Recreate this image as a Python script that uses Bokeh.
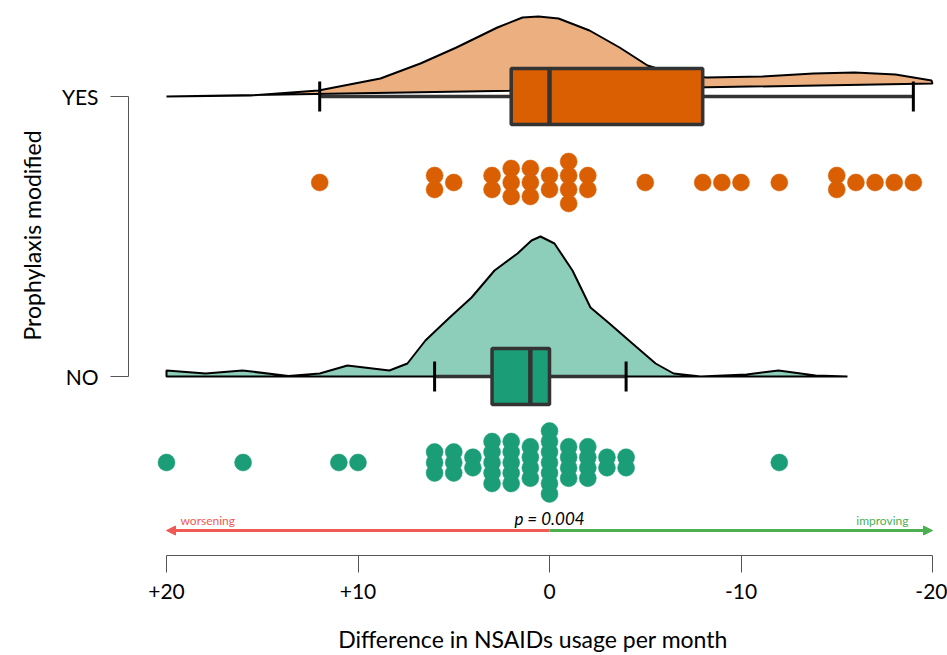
import numpy as np
from bokeh.plotting import figure
from bokeh.models import Range1d, FixedTicker, Arrow, NormalHead, ColumnDataSource, Title
from bokeh.core.properties import value
from bokeh.embed import file_html
from bokeh.resources import INLINE

# ---------------- data ----------------
groups = ["NO", "YES"]
x_ticks = [20, 10, 0, -10, -20]
x_tick_labels = ["+20", "+10", "0", "-10", "-20"]

yes_values = [12, 6, 6, 5, 3, 3, 2, 2, 2, 1, 1, 1, 0, 0, -1, -1, -1, -1, -2, -2,
              -5, -8, -9, -10, -12, -15, -15, -16, -17, -18, -19]
no_values = [20, 16, 11, 10, 6, 6, 6, 5, 5, 5, 4, 4, 3, 3, 3, 3, 3, 2, 2, 2, 2, 2,
             1, 1, 1, 1, 0, 0, 0, 0, 0, 0, 0, -1, -1, -1, -1, -2, -2, -2, -2,
             -3, -3, -4, -4, -12]

# box statistics: [whisker end, Q1, median, Q3, whisker end]
yes_box = [12, 2, 0, -8, -19]
no_box = [6, 3, 1, 0, -4]

# half-violin outlines (x value, relative height)
yes_dens_x = [20.0, 15.6, 12.06, 8.83, 6.74, 4.86, 2.72, 1.41, 0.57, -0.47, -2.09,
              -3.66, -5.12, -6.63, -8.2, -11.12, -13.79, -15.93, -18.07, -19.95]
yes_dens_h = [0, 1, 6, 18, 33, 49, 69, 79, 80, 78, 66, 49, 31, 22, 19, 20, 23, 24, 22, 16]
yes_base_x = [-20.0, 20.0]
yes_base_h = [13, 0]

no_dens_x = [20.0, 20.0, 17.96, 16.03, 13.63, 12.0, 10.55, 8.36, 7.42, 6.48, 5.27, 4.07,
             2.87, 1.67, 0.94, 0.47, -0.26, -1.2, -2.14, -3.13, -4.33, -5.54, -6.48,
             -7.89, -10.29, -11.96, -13.89, -15.56]
no_dens_h = [0, 6, 3, 6, 0.5, 3, 11, 6, 13, 36, 58, 79, 106, 123, 136, 140, 133, 106,
             69, 53, 33, 13, 3, 0, 2, 6, 1, 0]

p_text = "p = 0.004"
x_title = "Difference in NSAIDs usage per month"
y_title = "Prophylaxis modified"

# ---------------- layout ----------------
W, H = 947, 655
FL, FR, FT, FB = 128, 937, 0, 555          # frame edges in px
PX_P20, PX_M20 = 166, 932                   # px of +20 / -20
PX_YES, PX_NO = 96, 376                     # px of group lines
ppx = (PX_M20 - PX_P20) / 40.0
ppy = float(PX_NO - PX_YES)
x_start = 20 + (PX_P20 - FL) / ppx
x_end = -20 - (FR - PX_M20) / ppx
y_top = 1 + (PX_YES - FT) / ppy
y_bot = 0 - (FB - PX_NO) / ppy

FONT = "Lato"
ORANGE, ORANGE_L = "#d95f02", "#ecaf80"
GREEN, GREEN_L = "#1b9e77", "#8dcebb"
DARK = "#333333"

p = figure(width=W, height=H, output_backend="svg", toolbar_location=None,
           x_range=Range1d(x_start, x_end), y_range=Range1d(y_bot, y_top),
           min_border_left=FL, min_border_right=W - FR, min_border_top=FT,
           min_border_bottom=H - FB)
p.outline_line_color = None
p.grid.visible = False
p.background_fill_color = "white"
p.border_fill_color = "white"


def px(h):
    return h / ppy


def xv(pixel_x):
    return 20 - (pixel_x - PX_P20) / ppx


specs = [
    (1, yes_values, yes_box, yes_dens_x, yes_dens_h, yes_base_x, yes_base_h, ORANGE, ORANGE_L, 14),
    (0, no_values, no_box, no_dens_x, no_dens_h, [no_dens_x[-1], 20.0], [0, 0], GREEN, GREEN_L, 10.5),
]

for gy, vals, box, dx, dh, bx, bh, col, col_l, spacing in specs:
    # half violin
    xs = list(dx) + list(bx)
    ys = [gy + px(h) for h in dh] + [gy + px(h) for h in bh]
    p.patch(xs, ys, fill_color=col_l, line_color="black", line_width=2)
    # whisker line and caps
    p.segment(x0=[box[0]], y0=[gy], x1=[box[4]], y1=[gy], line_color=DARK, line_width=3.5)
    p.segment(x0=[box[0], box[4]], y0=[gy - px(15)] * 2, x1=[box[0], box[4]],
              y1=[gy + px(15)] * 2, line_color="black", line_width=3)
    # box
    p.quad(left=[box[1]], right=[box[3]], bottom=[gy - px(28)], top=[gy + px(28)],
           fill_color=col, line_color=DARK, line_width=3.5)
    p.segment(x0=[box[2]], y0=[gy - px(28)], x1=[box[2]], y1=[gy + px(28)],
              line_color=DARK, line_width=4.5)
    # rain (stacked dots)
    counts = {}
    for v in vals:
        counts[v] = counts.get(v, 0) + 1
    seen = {}
    ys_d = []
    for v in vals:
        i = seen.get(v, 0)
        seen[v] = i + 1
        off = (i - (counts[v] - 1) / 2.0) * spacing
        ys_d.append(gy - px(86 + off))
    src = ColumnDataSource(dict(x=vals, y=ys_d))
    p.scatter("x", "y", source=src, size=17, fill_color=col, line_color=col, line_width=0.5)

# arrow worsening / improving
ya = -px(530 - PX_NO)
RED, GRN = "#ef5a57", "#4caf50"
p.add_layout(Arrow(end=NormalHead(size=9, fill_color=RED, line_color=RED),
                   x_start=0, y_start=ya, x_end=20, y_end=ya, line_color=RED, line_width=3))
p.add_layout(Arrow(end=NormalHead(size=9, fill_color=GRN, line_color=GRN),
                   x_start=0, y_start=ya, x_end=-20, y_end=ya, line_color=GRN, line_width=3))
yt = -px(520 - PX_NO)
p.text(x=[xv(180)], y=[yt], text=["worsening"], text_color=RED, text_font=value(FONT),
       text_font_size="12px", text_align="left", text_baseline="middle")
p.text(x=[xv(908)], y=[yt], text=["improving"], text_color=GRN, text_font=value(FONT),
       text_font_size="12px", text_align="right", text_baseline="middle")
p.text(x=[0], y=[-px(518 - PX_NO)], text=[p_text], text_color="black", text_font=value(FONT),
       text_font_style="italic", text_font_size="17px", text_align="center", text_baseline="middle")

# axes
xa = p.xaxis[0]
xa.ticker = FixedTicker(ticks=x_ticks)
xa.major_label_overrides = {t: l for t, l in zip(x_ticks, x_tick_labels)}
xa.bounds = (-20, 20)
xa.axis_line_color = "#555555"
xa.major_tick_line_color = "#555555"
xa.major_tick_out = 17
xa.major_tick_in = 0
xa.minor_tick_line_color = None
xa.major_label_standoff = 11
xa.major_label_text_font = FONT
xa.major_label_text_font_size = "21px"
xa.major_label_text_color = "black"
xa.axis_label = x_title
xa.axis_label_text_font = FONT
xa.axis_label_text_font_size = "23px"
xa.axis_label_text_font_style = "normal"
xa.axis_label_text_color = "black"
xa.axis_label_standoff = 23

ya_ = p.yaxis[0]
ya_.ticker = FixedTicker(ticks=[0, 1])
ya_.major_label_overrides = {0: groups[0], 1: groups[1]}
ya_.bounds = (0, 1)
ya_.axis_line_color = "#555555"
ya_.major_tick_line_color = "#555555"
ya_.major_tick_out = 18
ya_.major_tick_in = 0
ya_.minor_tick_line_color = None
ya_.major_label_standoff = 12
ya_.major_label_orientation = "horizontal"
ya_.major_label_text_font = FONT
ya_.major_label_text_font_size = "21px"
ya_.major_label_text_color = "black"

# y-axis title as a side title, offset upward to sit where the reference has it
p.add_layout(Title(text=y_title, align="left", offset=215, standoff=26, text_font=FONT,
                   text_font_size="23px", text_font_style="normal", text_color="black"), "left")

open("out.html", "w").write(file_html(p, INLINE))
